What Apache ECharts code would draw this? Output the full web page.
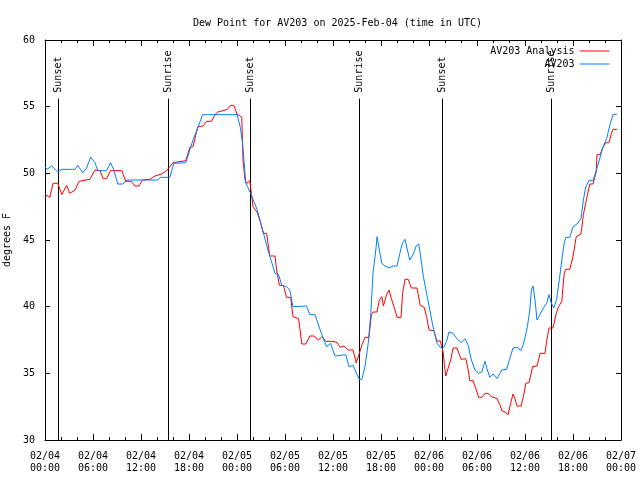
<!DOCTYPE html>
<html><head><meta charset="utf-8">
<script src="https://cdn.jsdelivr.net/npm/echarts@6/dist/echarts.min.js"></script>
<style>html,body{margin:0;padding:0;background:#fff}#c{width:640px;height:480px}</style>
</head><body><div id="c"></div>
<script>
const titleText = 'Dew Point for AV203 on 2025-Feb-04 (time in UTC)';
const yAxisName = 'degrees F';
const seriesNames = ['AV203 Analysis', 'AV203'];
const xTickLabels = ['02/04\n00:00','02/04\n06:00','02/04\n12:00','02/04\n18:00','02/05\n00:00','02/05\n06:00','02/05\n12:00','02/05\n18:00','02/06\n00:00','02/06\n06:00','02/06\n12:00','02/06\n18:00','02/07\n00:00'];

// hours since 02/04 00:00 UTC
const analysisHours = [0,0.6,1.0,1.6,2.1,2.7,3.1,3.75,4.25,5.6,6.25,6.9,7.25,7.7,8.2,9.6,10.1,10.8,11.25,11.75,12.2,13.1,13.75,14.6,15.2,16.0,16.25,17.6,18.1,18.5,19.1,19.75,20.2,20.8,21.25,21.6,22.25,22.8,23.2,23.6,24.0,24.6,24.75,25.0,25.25,25.6,25.8,26.0,26.5,26.9,27.3,27.7,28.1,28.75,28.95,29.3,29.8,30.2,30.7,31.0,31.7,32.1,32.6,33.1,33.6,34.2,34.6,35.1,36.0,36.5,36.9,37.4,37.9,38.5,38.9,39.0,39.3,39.6,40.0,40.5,40.8,41.0,41.5,41.8,42.1,42.3,42.7,43.0,43.3,43.75,44.0,44.5,44.7,45.0,45.4,45.8,46.5,46.9,47.4,47.7,48.0,48.6,49.0,49.4,49.6,49.8,49.9,50.1,50.4,50.75,51.0,51.5,52.0,52.6,52.9,53.1,53.5,54.0,54.2,54.6,55.0,55.4,55.8,56.5,56.9,57.1,57.5,57.9,58.1,58.5,58.75,59.0,59.5,59.8,60.1,60.5,60.95,61.5,61.9,62.5,62.7,63.0,63.5,63.9,64.2,64.6,64.9,65.1,65.6,66.0,66.4,67.0,67.3,67.7,68.1,68.5,68.9,69.0,69.4,69.7,70.1,70.5,70.8,71.0,71.5];
const analysisValues = [48.4,48.2,49.25,49.25,48.4,49.1,48.5,48.75,49.4,49.55,50.25,50.2,49.6,49.6,50.2,50.2,49.4,49.4,49.05,49.05,49.5,49.55,49.8,49.95,50.2,50.8,50.95,50.95,51.95,52.0,53.5,53.55,53.9,53.9,54.4,54.6,54.7,54.8,55.1,55.1,54.45,54.2,51.0,49.5,49.25,49.45,48.5,47.5,47.1,46.4,45.5,45.5,43.8,43.8,42.75,41.6,41.6,40.7,40.7,39.25,39.1,37.2,37.2,37.8,37.8,37.5,37.75,37.4,37.4,37.3,36.95,37.05,36.75,36.75,35.8,35.9,36.5,37.1,37.7,37.7,39.4,39.6,39.6,40.5,40.75,40.05,40.9,41.25,40.6,39.75,39.2,39.2,41.0,42.05,42.05,41.4,41.4,40.1,39.95,39.25,38.25,38.2,37.4,37.45,37.5,36.5,35.75,34.8,35.4,36.1,36.9,36.9,36.05,36.1,35.25,34.45,34.45,33.6,33.2,33.2,33.5,33.5,33.25,33.1,32.6,32.2,32.1,31.9,32.5,33.45,33.1,32.55,32.55,33.25,34.25,34.3,35.5,35.55,36.5,36.5,37.4,38.4,38.4,39.5,40.0,40.4,42.5,42.8,42.8,43.75,45.25,45.45,46.9,48.1,49.2,49.2,50.1,51.4,51.4,51.9,52.3,52.3,53.0,53.3,53.3];

const obsHours = [0,0.25,0.84,1.6,2.1,3.75,4.1,4.7,5.2,5.7,6.25,6.6,7.7,8.2,8.6,9.1,9.75,10.25,14.1,14.4,15.6,16.1,17.6,18.1,18.5,19.0,19.4,19.7,24.0,24.4,24.7,24.9,25.1,25.4,25.8,26.5,27.1,27.7,28.3,28.75,29.2,29.6,30.2,30.6,31.0,32.7,33.1,33.75,34.4,34.8,35.2,35.7,36.25,37.6,38.0,38.5,39.0,39.3,39.6,40.0,40.4,40.7,41.0,41.4,41.5,41.8,42.1,42.5,43.0,43.5,44.0,44.4,44.7,45.0,45.3,45.6,46.0,46.4,46.7,46.9,47.3,47.7,48.1,48.5,49.0,49.4,49.8,50.2,50.5,51.0,51.5,52.0,52.5,52.9,53.3,53.75,54.2,54.6,55.0,55.3,55.6,56.0,56.5,57.1,57.7,58.1,58.5,59.0,59.5,59.9,60.3,60.6,60.8,61.0,61.25,61.5,61.9,62.3,62.7,63.0,63.3,63.6,63.95,64.3,64.6,64.9,65.1,65.6,66.0,66.5,67.0,67.3,67.6,68.0,68.5,68.9,69.3,69.7,70.2,70.6,71.0,71.5];
const obsValues = [50.5,50.3,50.55,50.1,50.3,50.3,50.6,50.05,50.4,51.2,50.8,50.2,50.2,50.8,50.25,49.2,49.2,49.5,49.5,49.7,49.7,50.75,50.8,51.75,52.5,53.25,53.9,54.4,54.4,53.5,52.25,50.75,49.25,48.9,48.35,47.3,46.0,44.6,43.4,42.5,42.4,41.6,41.5,41.25,40.0,40.05,39.4,39.4,38.25,37.6,37.0,37.25,36.3,36.4,35.5,35.6,34.9,34.55,34.55,35.5,37.25,39.25,42.5,44.5,45.25,44.25,43.25,43.05,42.9,43.05,43.05,44.1,44.8,45.05,44.25,43.5,43.9,44.55,44.7,44.0,42.25,41.0,39.75,38.5,37.25,36.95,36.9,37.4,38.1,38.0,37.6,37.3,37.6,37.1,36.0,35.25,35.0,35.1,35.9,35.25,34.7,34.95,34.6,35.25,35.3,36.1,36.9,36.95,36.7,37.4,38.5,39.75,41.25,41.55,40.5,39.0,39.45,39.9,40.25,40.9,40.25,39.9,40.55,42.05,43.5,44.75,45.2,45.2,46.0,46.2,46.6,48.0,49.0,49.45,49.45,50.2,51.0,51.9,52.6,53.6,54.4,54.45];

const sunEventHours = [1.67, 15.4, 25.67, 39.3, 49.67, 63.28];
const sunEventNames = ['Sunset','Sunrise','Sunset','Sunrise','Sunset','Sunrise'];
const sunLineTop = 55.6;

const FONT = '"DejaVu Sans Mono", "Liberation Mono", monospace';
const axisCommon = {
  axisLine: {show: true, onZero: false, lineStyle: {color: '#000', width: 1}},
  splitLine: {show: false}
};

const chart = echarts.init(document.getElementById('c'), null, {renderer: 'canvas'});
chart.setOption({
  animation: false,
  backgroundColor: '#fff',
  title: {text: titleText, left: 188, top: 13, textStyle: {fontFamily: FONT, fontSize: 10, fontWeight: 'normal', color: '#000'}},
  legend: {
    data: seriesNames, orient: 'vertical', right: 30, top: 46, align: 'right',
    itemWidth: 30, itemHeight: 10, itemGap: 3, padding: 0,
    itemStyle: {opacity: 0},
    lineStyle: {width: 1},
    textStyle: {fontFamily: FONT, fontSize: 10, color: '#000'}
  },
  grid: {left: 45, right: 19, top: 40, bottom: 40, containLabel: false, outerBoundsMode: 'none'},
  xAxis: [
    Object.assign({}, axisCommon, {
      type: 'value', min: 0, max: 72, interval: 6, position: 'bottom',
      axisTick: {show: true, inside: true, length: 6, lineStyle: {color: '#000'}},
      minorTick: {show: true, splitNumber: 3, length: 3, lineStyle: {color: '#000'}},
      axisLabel: {color: '#000', fontFamily: FONT, fontSize: 10, lineHeight: 12, margin: 10,
        formatter: v => xTickLabels[Math.round(v / 6)]}
    }),
    Object.assign({}, axisCommon, {
      type: 'value', min: 0, max: 72, interval: 6, position: 'top',
      axisTick: {show: true, inside: true, length: 6, lineStyle: {color: '#000'}},
      minorTick: {show: true, splitNumber: 3, length: 3, lineStyle: {color: '#000'}},
      axisLabel: {show: false}
    })
  ],
  yAxis: [
    Object.assign({}, axisCommon, {
      type: 'value', min: 30, max: 60, interval: 5, position: 'left',
      axisTick: {show: true, inside: true, length: 5, lineStyle: {color: '#000'}},
      axisLabel: {color: '#000', fontFamily: FONT, fontSize: 10, margin: 10},
      name: yAxisName, nameLocation: 'middle', nameGap: 30, nameRotate: 90,
      nameTextStyle: {fontFamily: FONT, fontSize: 10, color: '#000'}
    }),
    Object.assign({}, axisCommon, {
      type: 'value', min: 30, max: 60, interval: 5, position: 'right',
      axisTick: {show: true, inside: true, length: 5, lineStyle: {color: '#000'}},
      axisLabel: {show: false}
    })
  ],
  series: [
    {
      type: 'custom', name: 'sun', xAxisIndex: 0, yAxisIndex: 0, silent: true,
      data: sunEventHours.map(h => [h]),
      renderItem: function (params, api) {
        const h = api.value(0);
        const p0 = api.coord([h, 30]);
        const p1 = api.coord([h, sunLineTop]);
        const x = Math.round(p0[0]) + 0.5;
        return {type: 'group', children: [
          {type: 'line', shape: {x1: x, y1: p0[1], x2: x, y2: p1[1]}, style: {stroke: '#000', lineWidth: 1}},
          {type: 'text', x: x, y: p1[1] - 6, rotation: Math.PI / 2,
            style: {text: sunEventNames[params.dataIndex], fill: '#000', font: '10px ' + FONT, align: 'left', verticalAlign: 'middle'}}
        ]};
      }
    },
    {
      type: 'line', name: seriesNames[0], xAxisIndex: 0, yAxisIndex: 0,
      data: analysisHours.map((h, i) => [h, analysisValues[i]]),
      symbol: 'none', showSymbol: false, color: '#ff0000',
      lineStyle: {color: '#ff0000', width: 1}
    },
    {
      type: 'line', name: seriesNames[1], xAxisIndex: 0, yAxisIndex: 0,
      data: obsHours.map((h, i) => [h, obsValues[i]]),
      symbol: 'none', showSymbol: false, color: '#0080ff',
      lineStyle: {color: '#0080ff', width: 1}
    }
  ]
});
</script></body></html>
